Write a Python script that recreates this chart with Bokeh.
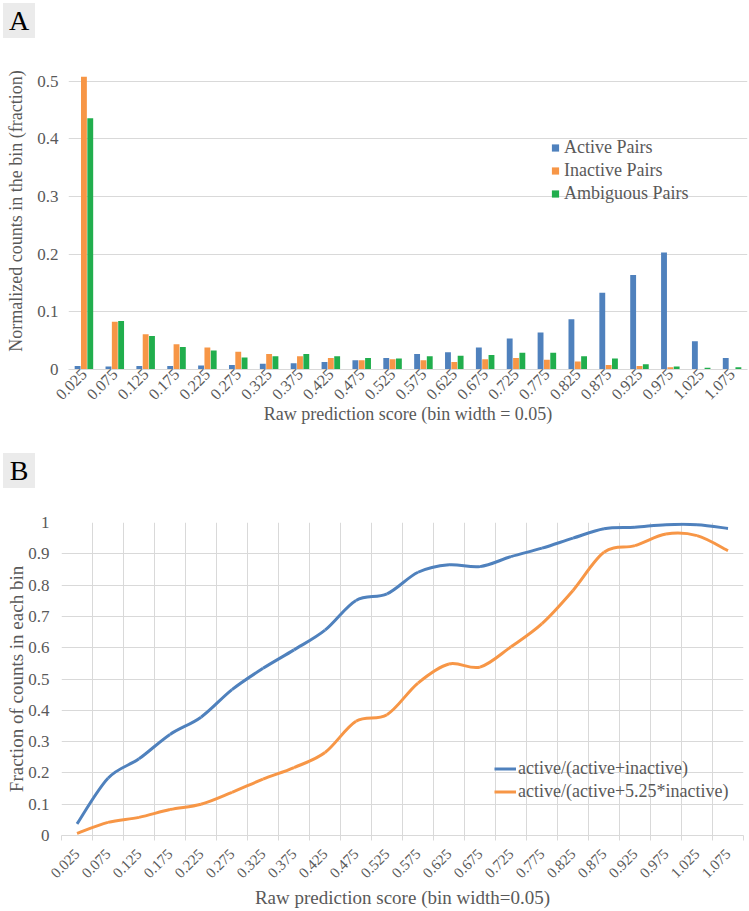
import math
import numpy as np
from bokeh.plotting import figure
from bokeh.models import (FactorRange, Range1d, FixedTicker, Legend, LegendItem,
                          ColumnDataSource, Div)
from bokeh.transform import dodge
from bokeh.layouts import column
from bokeh.embed import file_html
from bokeh.resources import INLINE

# ---------------- data ----------------
bins = ["0.025", "0.075", "0.125", "0.175", "0.225", "0.275", "0.325", "0.375",
        "0.425", "0.475", "0.525", "0.575", "0.625", "0.675", "0.725", "0.775",
        "0.825", "0.875", "0.925", "0.975", "1.025", "1.075"]

active_pairs = [0.006, 0.005, 0.006, 0.006, 0.007, 0.008, 0.010, 0.011, 0.013, 0.016,
                0.020, 0.027, 0.030, 0.038, 0.054, 0.064, 0.087, 0.133, 0.164, 0.203,
                0.049, 0.020]
inactive_pairs = [0.508, 0.083, 0.061, 0.044, 0.038, 0.031, 0.027, 0.023, 0.020, 0.016,
                  0.018, 0.016, 0.013, 0.018, 0.020, 0.017, 0.014, 0.008, 0.006, 0.004,
                  0.001, 0.001]
ambiguous_pairs = [0.436, 0.084, 0.058, 0.039, 0.033, 0.021, 0.023, 0.027, 0.023, 0.020,
                   0.019, 0.023, 0.024, 0.025, 0.029, 0.029, 0.023, 0.019, 0.009, 0.005,
                   0.003, 0.004]

ratio_plain = [0.037, 0.183, 0.245, 0.323, 0.378, 0.466, 0.534, 0.593, 0.656, 0.751,
               0.772, 0.841, 0.865, 0.859, 0.891, 0.918, 0.950, 0.980, 0.985, 0.993,
               0.993, 0.981]
ratio_weighted = [0.007, 0.042, 0.058, 0.083, 0.100, 0.138, 0.180, 0.217, 0.265, 0.365,
                  0.386, 0.487, 0.548, 0.538, 0.603, 0.677, 0.783, 0.905, 0.926, 0.963,
                  0.958, 0.910]

y_ticks_a = [0, 0.1, 0.2, 0.3, 0.4, 0.5]
y_tick_labels_a = ["0", "0.1", "0.2", "0.3", "0.4", "0.5"]
y_ticks_b = [0, 0.1, 0.2, 0.3, 0.4, 0.5, 0.6, 0.7, 0.8, 0.9, 1]
y_tick_labels_b = ["0", "0.1", "0.2", "0.3", "0.4", "0.5", "0.6", "0.7", "0.8", "0.9", "1"]

series_a = ["Active Pairs", "Inactive Pairs", "Ambiguous Pairs"]
series_b = ["active/(active+inactive)", "active/(active+5.25*inactive)"]

# ---------------- style ----------------
FONT = "Liberation Serif"
TXT = "#595959"
GRID = "#d9d9d9"
BLUE = "#4F81BD"
ORANGE = "#F79646"
GREEN = "#21AE4D"


def panel_tag(letter, margin):
    return Div(text=letter, width=32, height=35, margin=margin,
               styles={"background-color": "#ebebeb", "font-family": FONT,
                       "font-size": "28px", "color": "black", "text-align": "center",
                       "line-height": "35px"})


def style_axis(ax, tick_size, title_size):
    ax.major_label_text_font = FONT
    ax.major_label_text_font_size = tick_size
    ax.major_label_text_color = TXT
    ax.axis_label_text_font = FONT
    ax.axis_label_text_font_size = title_size
    ax.axis_label_text_font_style = "normal"
    ax.axis_label_text_color = TXT
    ax.major_tick_line_color = None
    ax.major_tick_out = 0


# ---------------- panel A ----------------
srcA = ColumnDataSource(dict(bin=bins, active=active_pairs,
                             inactive=inactive_pairs, ambiguous=ambiguous_pairs))
pA = figure(width=749, height=415, x_range=FactorRange(*bins), y_range=Range1d(0, 0.55),
            output_backend="svg", toolbar_location=None, frame_align=False,
            min_border_left=68, min_border_right=2, min_border_top=14, min_border_bottom=84)
pA.outline_line_color = None
markersA = []
for off, col, c in [(-0.205, "active", BLUE), (0.0, "inactive", ORANGE), (0.205, "ambiguous", GREEN)]:
    pA.vbar(x=dodge("bin", off, range=pA.x_range), top=col, width=0.19, source=srcA,
            fill_color=c, line_color=None)
    # zero-size markers on the same data, used only for the legend swatches
    markersA.append(pA.scatter(x=dodge("bin", off, range=pA.x_range), y=col, source=srcA,
                               marker="square", size=0, fill_color=c, line_color=None))

pA.xgrid.visible = False
pA.ygrid.ticker = FixedTicker(ticks=y_ticks_a)
pA.ygrid.grid_line_color = GRID
pA.yaxis.ticker = FixedTicker(ticks=y_ticks_a)
pA.yaxis.major_label_overrides = {t: l for t, l in zip(y_ticks_a, y_tick_labels_a)}
style_axis(pA.yaxis[0], "17px", "18px")
pA.yaxis.axis_line_color = None
pA.yaxis.minor_tick_line_color = None
pA.yaxis.minor_tick_out = 0
pA.yaxis.major_label_standoff = 10
pA.yaxis.axis_label = "Normalized counts in the bin (fraction)"
pA.yaxis.axis_label_standoff = 8

style_axis(pA.xaxis[0], "16px", "18px")
pA.xaxis.axis_line_color = GRID
pA.xaxis.minor_tick_out = 0
pA.xaxis.major_label_orientation = math.pi / 4
pA.xaxis.major_label_standoff = 2
pA.xaxis.axis_label = "Raw prediction score (bin width = 0.05)"
pA.xaxis.axis_label_standoff = -4

legA = Legend(items=[LegendItem(label=s, renderers=[r]) for s, r in zip(series_a, markersA)],
              location=(478, 165), glyph_width=18, glyph_height=21, label_height=21,
              spacing=2, padding=0, margin=0, label_standoff=0,
              border_line_color=None, background_fill_alpha=0,
              label_text_font=FONT, label_text_font_size="18px", label_text_color=TXT)
pA.add_layout(legA)

# ---------------- panel B ----------------
xc = np.arange(len(bins)) + 0.5
bounds = list(range(len(bins) + 1))


def smooth(xs, ys):
    P = np.column_stack([xs, ys]).astype(float)
    Pm = np.vstack([P[0], P, P[-1]])
    p0, p1, p2, p3 = Pm[:-3], Pm[1:-2], Pm[2:-1], Pm[3:]
    c0 = p1 + (p2 - p0) / 6.0
    c1 = p2 - (p3 - p1) / 6.0
    return dict(x0=p1[:, 0], y0=p1[:, 1], x1=p2[:, 0], y1=p2[:, 1],
                cx0=c0[:, 0], cy0=c0[:, 1], cx1=c1[:, 0], cy1=c1[:, 1])


pB = figure(width=749, height=423, x_range=Range1d(0, len(bins)), y_range=Range1d(0, 1),
            output_backend="svg", toolbar_location=None, frame_align=False,
            min_border_left=61, min_border_right=6, min_border_top=34, min_border_bottom=74)
pB.outline_line_color = None
pB.xgrid.ticker = FixedTicker(ticks=bounds)
pB.xgrid.grid_line_color = GRID
pB.ygrid.ticker = FixedTicker(ticks=y_ticks_b)
pB.ygrid.grid_line_color = GRID

curvesB = []
for ys, c in [(ratio_plain, BLUE), (ratio_weighted, ORANGE)]:
    curvesB.append(pB.bezier(source=ColumnDataSource(smooth(xc, ys)), line_color=c, line_width=3))

pB.yaxis.ticker = FixedTicker(ticks=y_ticks_b)
pB.yaxis.major_label_overrides = {t: l for t, l in zip(y_ticks_b, y_tick_labels_b)}
style_axis(pB.yaxis[0], "17px", "19px")
pB.yaxis.axis_line_color = None
pB.yaxis.minor_tick_line_color = None
pB.yaxis.minor_tick_out = 0
pB.yaxis.major_label_standoff = 12
pB.yaxis.axis_label = "Fraction of counts in each bin"
pB.yaxis.axis_label_standoff = -2

pB.xaxis.ticker = FixedTicker(ticks=list(xc), minor_ticks=bounds)
pB.xaxis.major_label_overrides = {float(c): l for c, l in zip(xc, bins)}
style_axis(pB.xaxis[0], "15px", "19px")
pB.xaxis.axis_line_color = GRID
pB.xaxis.minor_tick_line_color = GRID
pB.xaxis.minor_tick_out = 5
pB.xaxis.minor_tick_in = 0
pB.xaxis.major_label_orientation = math.pi / 4
pB.xaxis.major_label_standoff = 11
pB.xaxis.axis_label = "Raw prediction score (bin width=0.05)"
pB.xaxis.axis_label_standoff = 2

legB = Legend(items=[LegendItem(label=s, renderers=[r]) for s, r in zip(series_b, curvesB)],
              location=(433, 32), glyph_width=22, glyph_height=23, label_height=23,
              spacing=0, padding=0, margin=0, label_standoff=2,
              border_line_color=None, background_fill_alpha=0,
              label_text_font=FONT, label_text_font_size="18px", label_text_color=TXT)
pB.add_layout(legB)

layout = column(panel_tag("A", (3, 0, 0, 3)), pA, panel_tag("B", (0, 0, 0, 3)), pB, spacing=0)
open("out.html", "w").write(file_html(layout, INLINE))
